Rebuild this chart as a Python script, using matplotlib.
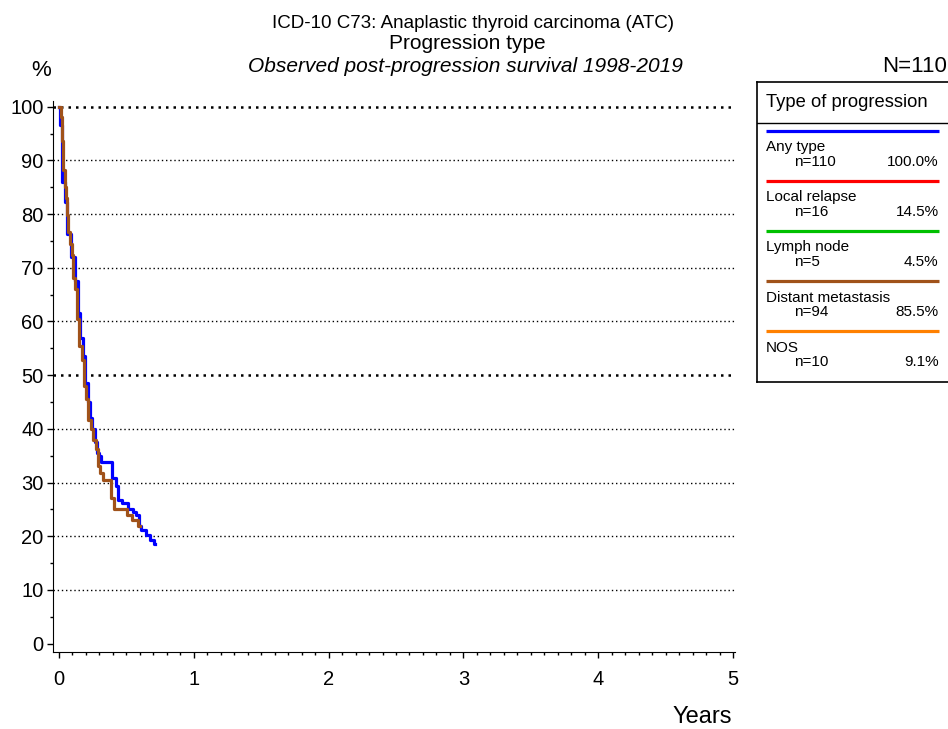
import numpy as np
import matplotlib
matplotlib.use('Agg')
import matplotlib.pyplot as plt
from matplotlib.ticker import MultipleLocator

plt.rcParams['font.family'] = ['Liberation Sans', 'DejaVu Sans']

# Curvas de sobrevida (anos, %)
t_any = [0, 0.011, 0.027, 0.047, 0.064, 0.090, 0.124, 0.145, 0.161, 0.180,
         0.198, 0.217, 0.231, 0.250, 0.268, 0.287, 0.300, 0.313, 0.392,
         0.424, 0.440, 0.466, 0.514, 0.551, 0.576, 0.596, 0.613, 0.650,
         0.675, 0.705, 0.712]
s_any = [100, 96.5, 86.0, 82.3, 76.2, 72.0, 67.5, 61.5, 57.0, 53.5,
         48.5, 45.0, 42.0, 40.0, 37.5, 35.5, 35.0, 33.9, 30.8,
         29.3, 26.8, 26.2, 25.1, 24.5, 23.9, 22.0, 21.1, 20.2,
         19.3, 18.6, 18.6]

t_dist = [0, 0.015, 0.024, 0.034, 0.047, 0.056, 0.065, 0.071, 0.084, 0.096,
          0.109, 0.120, 0.133, 0.152, 0.170, 0.187, 0.202, 0.219, 0.239,
          0.256, 0.273, 0.293, 0.305, 0.325, 0.384, 0.413, 0.503, 0.540,
          0.588, 0.601]
s_dist = [100, 98.0, 93.6, 88.3, 85.1, 83.0, 79.8, 76.6, 74.5, 72.3,
          68.1, 66.0, 60.4, 55.4, 52.9, 47.9, 45.5, 41.7, 39.9,
          38.0, 36.2, 33.0, 31.8, 30.5, 27.1, 25.1, 24.0, 23.1,
          21.9, 21.9]

# Legenda
grupos = ['Any type', 'Local relapse', 'Lymph node', 'Distant metastasis', 'NOS']
n_grupos = [110, 16, 5, 94, 10]
pct_grupos = ['100.0%', '14.5%', '4.5%', '85.5%', '9.1%']
cores = ['#0000FF', '#FF0000', '#00C000', '#A0521A', '#FF8000']

W, H = 948, 729
fig = plt.figure(figsize=(W / 100, H / 100), dpi=100)


def ftext(x, y, s, **kw):
    fig.text(x / W, 1 - y / H, s, va='baseline', **kw)


ax = fig.add_axes([53.3 / W, 1 - 651.7 / H, (735 - 53.3) / W, (651.7 - 101) / H])
ax.set_xlim(-0.04, 5.0126)
ax.set_ylim(-1.49, 101.06)

# Linhas de grade pontilhadas
for yv in range(10, 101, 10):
    lw = 1.8 if yv in (50, 100) else 1.0
    ax.axhline(yv, color='black', lw=lw, ls=(0, (1, 2)), zorder=1)

ax.step(t_any, s_any, where='post', color=cores[0], lw=2.3, zorder=3)
ax.step(t_dist, s_dist, where='post', color=cores[3], lw=2.3, zorder=4)

ax.spines['top'].set_visible(False)
ax.spines['right'].set_visible(False)
ax.xaxis.set_major_locator(MultipleLocator(1))
ax.xaxis.set_minor_locator(MultipleLocator(0.1))
ax.yaxis.set_major_locator(MultipleLocator(10))
ax.yaxis.set_minor_locator(MultipleLocator(5))
ax.tick_params(which='major', length=4, width=1, labelsize=14.5)
ax.tick_params(which='minor', length=2.5, width=1)
ax.tick_params(axis='x', which='major', pad=9)
ax.tick_params(axis='y', which='major', pad=3)

# Títulos
ftext(473, 28.3, 'ICD-10 C73: Anaplastic thyroid carcinoma (ATC)', ha='center', fontsize=13.5)
ftext(467.5, 49.3, 'Progression type', ha='center', fontsize=15)
ftext(465, 71.7, 'Observed post-progression survival 1998-2019', ha='center',
      fontsize=15, style='italic')
ftext(41, 76, '%', ha='center', fontsize=16)
ftext(947, 71.7, 'N=110', ha='right', fontsize=16)
ftext(731.7, 723, 'Years', ha='right', fontsize=17)

# Caixa da legenda
lx0, ly0 = 756.7, 81.7
lg = fig.add_axes([lx0 / W, 1 - 381.7 / H, (952 - lx0) / W, 300 / H])
lg.set_xlim(0, 952 - lx0)
lg.set_ylim(300, 0)
lg.set_xticks([])
lg.set_yticks([])
for sp in lg.spines.values():
    sp.set_linewidth(1.2)
lg.text(9.3, 25, 'Type of progression', fontsize=13.2, va='baseline')
lg.axhline(41.6, color='black', lw=1)
for i, (g, n, p, c) in enumerate(zip(grupos, n_grupos, pct_grupos, cores)):
    y0 = 49.3 + 50 * i
    lg.plot([9.3, 182], [y0, y0], color=c, lw=2.3, solid_capstyle='butt')
    lg.text(9.3, y0 + 20.5, g, fontsize=11, va='baseline')
    lg.text(37.6, y0 + 35, 'n=%d' % n, fontsize=11, va='baseline')
    lg.text(182, y0 + 35, p, fontsize=11, va='baseline', ha='right')

fig.savefig('out.png', dpi=100)
